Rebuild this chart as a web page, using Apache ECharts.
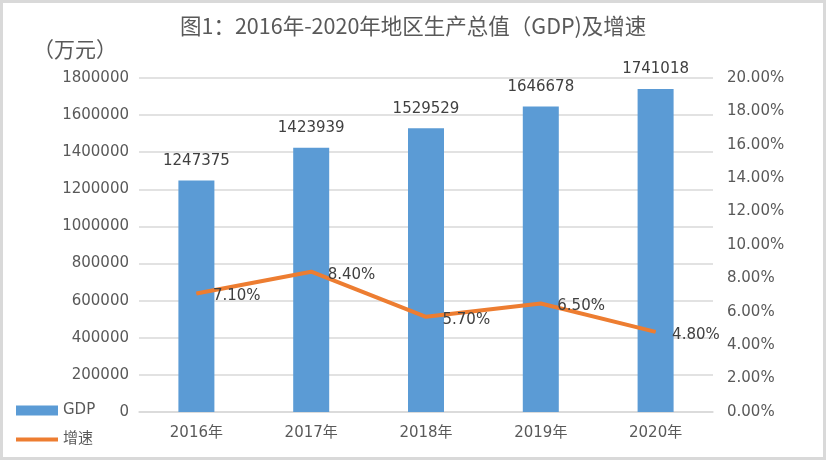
<!DOCTYPE html>
<html lang="zh">
  <head>
    <meta charset="UTF-8" />
    <title>2016年-2020年地区生产总值（GDP)及增速</title>
    <script src="https://cdn.jsdelivr.net/npm/echarts@6/dist/echarts.min.js"></script>
    <style>
      html, body { margin: 0; padding: 0; background: #fff; }
      #main {
        width: 826px;
        height: 460px;
        box-sizing: border-box;
        border: 3px solid #d9d9d9;
      }
    </style>
  </head>
  <body>
    <div id="main"></div>

    <script>
      const years = ['2016年', '2017年', '2018年', '2019年', '2020年'];
      const gdp = [1247375, 1423939, 1529529, 1646678, 1741018];
      const growth = [7.1, 8.4, 5.7, 6.5, 4.8];

      const textColor = '#595959';
      const font = '"DejaVu Sans", "Noto Sans CJK SC", sans-serif';
      const cjk = '"Noto Sans CJK SC", "DejaVu Sans", sans-serif';

      const chart = echarts.init(document.querySelector('#main'));

      chart.setOption({
        animation: false,
        textStyle: { fontFamily: font, color: textColor },
        title: {
          text: '图1：2016年-2020年地区生产总值（GDP)及增速',
          left: 172,
          top: 7,
          textStyle: { fontSize: 21.5, fontWeight: 'normal', color: textColor, fontFamily: cjk }
        },
        legend: {
          orient: 'vertical',
          left: 11,
          top: 400,
          padding: 0,
          itemWidth: 42,
          itemHeight: 10,
          itemGap: 14,
          textStyle: { fontSize: 15, color: textColor, fontFamily: font },
          data: [
            { name: 'GDP', icon: 'rect' },
            { name: '增速', itemStyle: { opacity: 0 }, lineStyle: { width: 4 } }
          ]
        },
        grid: { left: 136, right: 110, top: 75, bottom: 45 },
        xAxis: {
          type: 'category',
          data: years,
          axisTick: { show: false },
          axisLine: { lineStyle: { color: '#d9d9d9', width: 1.5 } },
          axisLabel: { color: textColor, fontSize: 15, margin: 14 }
        },
        yAxis: [
          {
            type: 'value',
            name: '（万元）',
            nameLocation: 'end',
            nameGap: 18,
            nameTextStyle: {
              fontSize: 21,
              color: textColor,
              fontFamily: cjk,
              align: 'right',
              padding: [0, 22, 0, 0]
            },
            min: 0,
            max: 1800000,
            interval: 200000,
            axisLine: { show: false },
            axisTick: { show: false },
            axisLabel: { color: textColor, fontSize: 15, margin: 10, formatter: (v) => String(v) },
            splitLine: { lineStyle: { color: '#d9d9d9', width: 1.5 } }
          },
          {
            type: 'value',
            min: 0,
            max: 20,
            interval: 2,
            axisLine: { show: false },
            axisTick: { show: false },
            axisLabel: {
              color: textColor,
              fontSize: 15,
              margin: 14,
              formatter: (v) => v.toFixed(2) + '%'
            },
            splitLine: { show: false }
          }
        ],
        series: [
          {
            name: 'GDP',
            type: 'bar',
            data: gdp,
            barWidth: 36,
            itemStyle: { color: '#5B9BD5' },
            label: {
              show: true,
              position: 'top',
              distance: 12,
              color: '#404040',
              fontSize: 15
            }
          },
          {
            name: '增速',
            type: 'line',
            yAxisIndex: 1,
            data: growth,
            symbol: 'circle',
            symbolSize: 1,
            lineStyle: { color: '#ED7D31', width: 4 },
            itemStyle: { color: '#ED7D31' },
            label: {
              show: true,
              position: 'right',
              distance: 16,
              offset: [0, 3],
              color: '#404040',
              fontSize: 15,
              formatter: (p) => p.value.toFixed(2) + '%'
            }
          }
        ]
      });

      window.onresize = function () {
        chart.resize();
      };
    </script>
  </body>
</html>
